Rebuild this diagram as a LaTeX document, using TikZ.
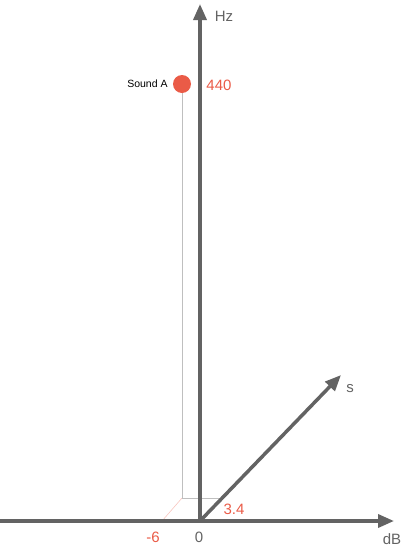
\documentclass[tikz,border=0pt]{standalone}
\usepackage{fontspec}
\setmainfont{Liberation Sans}
\usetikzlibrary{arrows.meta,positioning}
\definecolor{axisgray}{HTML}{636363}
\definecolor{soundred}{HTML}{EA5B47}
\begin{document}
\begin{tikzpicture}[x=1pt,y=-1pt,
    axis/.style={line width=3.5pt,draw=axisgray,-{Triangle[length=16pt,width=13pt]}},
    proj/.style={draw=black!25,line width=0.6pt},
    lbl/.style={text=axisgray,font=\fontsize{15}{15}\selectfont,inner sep=0pt},
    val/.style={text=soundred,font=\fontsize{15}{15}\selectfont,inner sep=0pt}]
      \useasboundingbox (0,0) rectangle (410,552);
      \coordinate (O)    at (200,521);
      \coordinate (W)    at (0,521);
      \coordinate (dB)   at (394,521);
      \coordinate (Hz)   at (200,4);
      \coordinate (s)    at (341,375);
      \coordinate (m6)   at (162,521);
      \coordinate (s34)  at (220,498);
      \coordinate (base) at (182,498);

      % projection lines
      \draw[proj,draw=soundred!35] (m6) -- (base);
      \draw[proj] (base) -- (s34);
      \node[circle,fill=soundred,minimum size=18pt,inner sep=0pt] (A) at (182,84) {};
      \draw[proj] (A) -- (base);

      % axes
      \draw[axis] (W)  -- (dB);
      \draw[axis] (O)  -- (Hz);
      \draw[axis] (O)  -- (s);

      \node[lbl] (Hzl) at (224,16)  {Hz};
      \node[lbl] (sl)  at (350,389) {s};
      \node[lbl] (dBl) at (392,539) {dB};
      \node[lbl] (zero) at (199,537) {0};
      \node[val] (v440) at (219,85)  {440};
      \node[val] (vm6)  at (153,537) {-6};
      \node[val] (v34)  at (234,509) {3.4};
      \node[inner sep=0pt,font=\fontsize{10.5}{10.5}\selectfont,left=5pt of A] (Al) {Sound A};
    \end{tikzpicture}
\end{document}
